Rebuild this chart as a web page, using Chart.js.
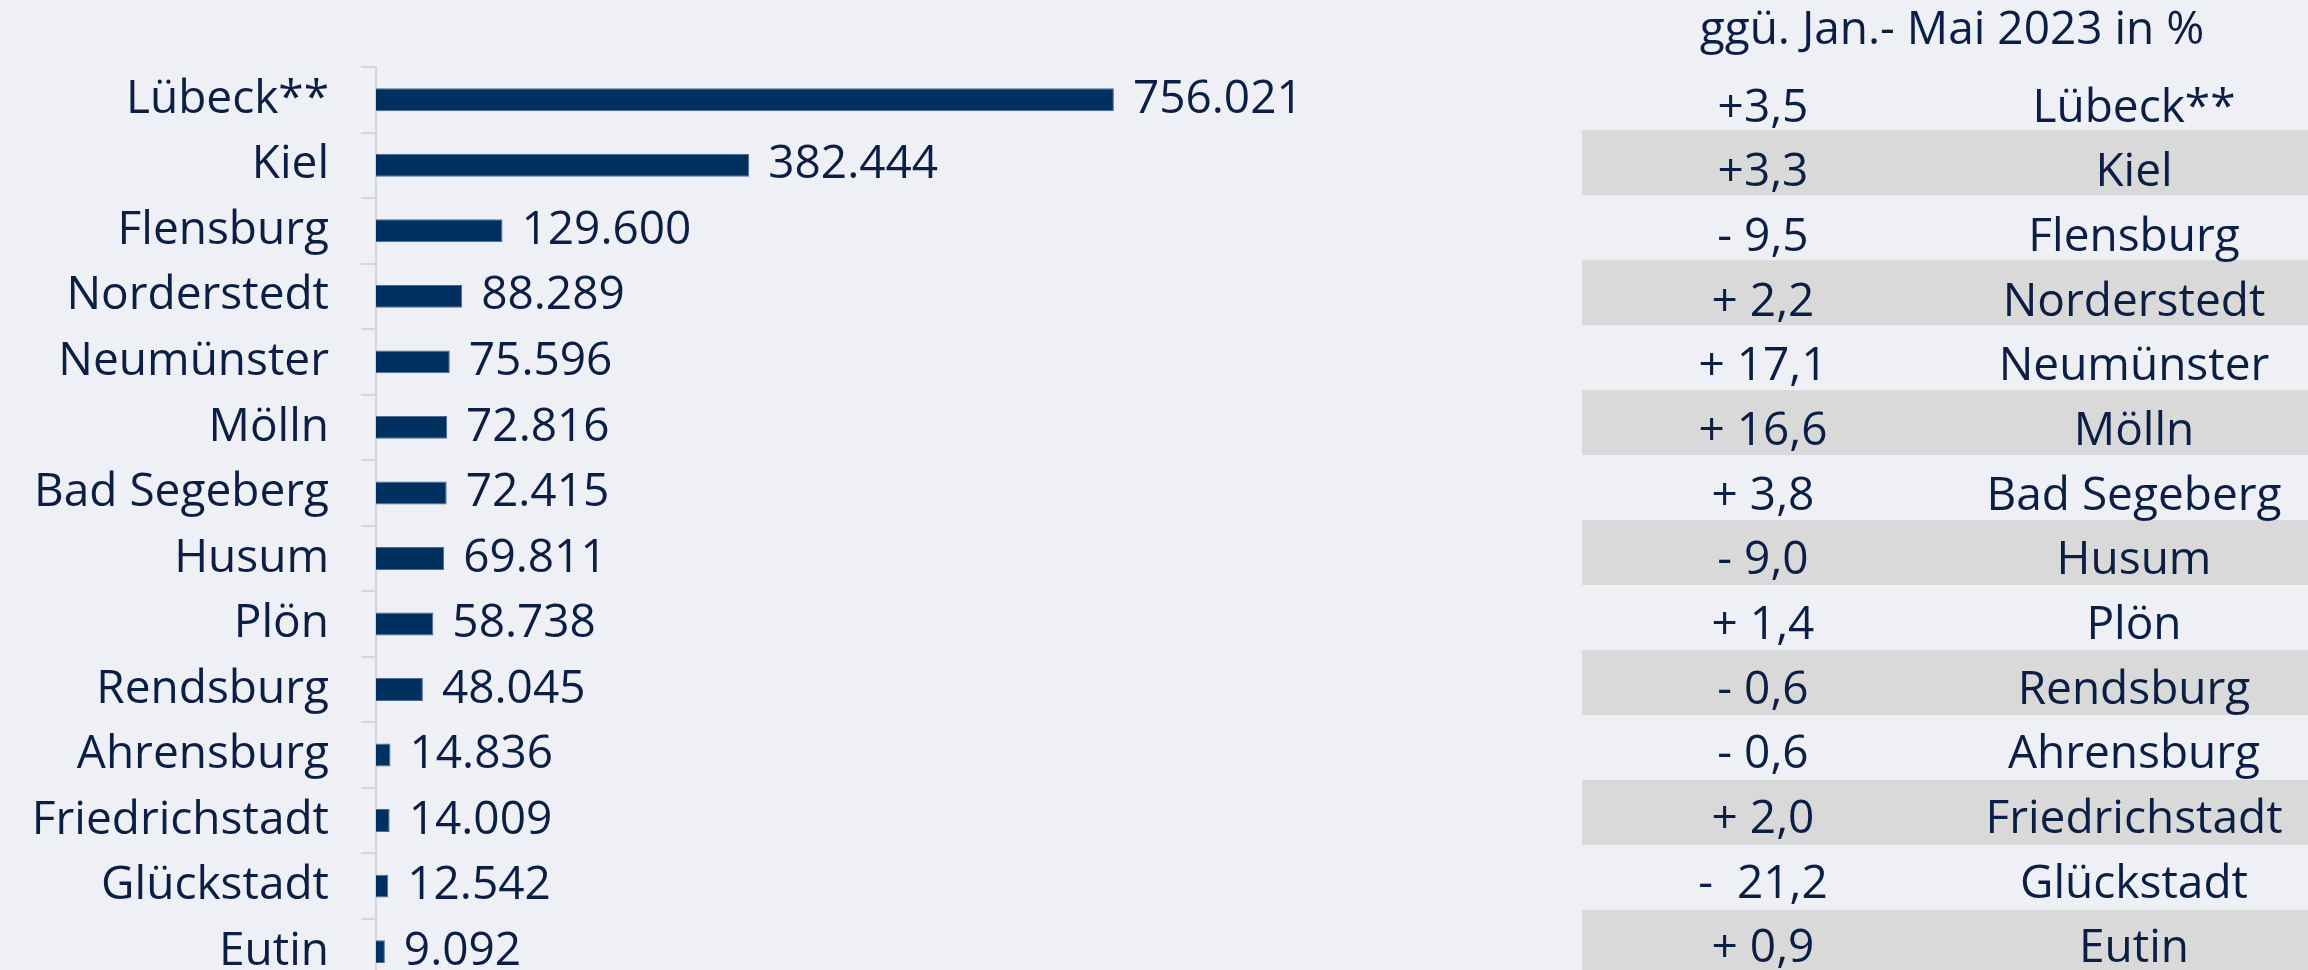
<!DOCTYPE html>
<html>
<head>
<meta charset="utf-8">
<script src="https://cdn.jsdelivr.net/npm/chart.js@4.4.1/dist/chart.umd.min.js"></script>
<style>
  html, body { margin: 0; padding: 0; background: #eff0f5; overflow: hidden; }
  #wrap { width: 2308px; height: 1044px; }
</style>
</head>
<body>
<div id="wrap"><canvas id="c" width="2308" height="1044"></canvas></div>
<script>
const categories = ['Lübeck**', 'Kiel', 'Flensburg', 'Norderstedt', 'Neumünster', 'Mölln', 'Bad Segeberg', 'Husum', 'Plön', 'Rendsburg', 'Ahrensburg', 'Friedrichstadt', 'Glückstadt', 'Eutin'];
const visitors = [756021, 382444, 129600, 88289, 75596, 72816, 72415, 69811, 58738, 48045, 14836, 14009, 12542, 9092];
const changeLabels = ['+3,5', '+3,3', '- 9,5', '+ 2,2', '+ 17,1', '+ 16,6', '+ 3,8', '- 9,0', '+ 1,4', '- 0,6', '- 0,6', '+ 2,0', '-  21,2', '+ 0,9'];
const tableHeader = 'ggü. Jan.- Mai 2023 in %';

const FONT = '"Open Sans", Lato, sans-serif';
const TEXT = '#0b1f45';
const BAR = '#00305f';

function fmtDE(v) {
  return String(v).replace(/\B(?=(\d{3})+(?!\d))/g, '.');
}

const overlay = {
  id: 'overlay',
  beforeDatasetsDraw(chart) {
    const ctx = chart.ctx;
    const y = chart.scales.y;
    const step = y.getPixelForValue(1) - y.getPixelForValue(0);
    ctx.save();
    ctx.fillStyle = '#d9d9d9';
    categories.forEach((c, i) => {
      if (i % 2 === 1) {
        const cy = y.getPixelForValue(i);
        ctx.fillRect(1582, cy - step / 2 - 1.7 - 0.56 * i, 2308 - 1582, step - 0.6);
      }
    });
    ctx.restore();
  },
  afterDatasetsDraw(chart) {
    const ctx = chart.ctx;
    const meta = chart.getDatasetMeta(0);
    const y = chart.scales.y;
    ctx.save();
    ctx.font = '46px ' + FONT;
    ctx.fillStyle = TEXT;
    ctx.textBaseline = 'middle';
    ctx.textAlign = 'left';
    meta.data.forEach((bar, i) => {
      ctx.fillText(fmtDE(visitors[i]), bar.x + 19, bar.y);
    });
    ctx.textAlign = 'center';
    categories.forEach((c, i) => {
      const cy = y.getPixelForValue(i) + 8.7 - 0.86 * i;
      ctx.fillText(changeLabels[i], 1763, cy);
      ctx.fillText(c, 2134, cy);
    });
    ctx.fillText(tableHeader, 1952, 31);
    ctx.restore();
  }
};

new Chart(document.getElementById('c'), {
  type: 'bar',
  data: {
    labels: categories,
    datasets: [{
      data: visitors,
      backgroundColor: BAR,
      borderColor: '#4f6a8f',
      borderWidth: 1,
      categoryPercentage: 1,
      barPercentage: 0.35
    }]
  },
  options: {
    indexAxis: 'y',
    responsive: false,
    animation: false,
    layout: { padding: { top: 67, bottom: 9, left: 0, right: 956 } },
    plugins: { legend: { display: false }, tooltip: { enabled: false } },
    scales: {
      x: {
        display: false,
        min: 0,
        max: 1000000
      },
      y: {
        afterFit(scale) { scale.width = 376; },
        border: { display: true, color: '#d6d6d9', width: 2 },
        grid: { drawOnChartArea: false, drawTicks: true, tickLength: 15, color: '#d6d6d9', lineWidth: 2 },
        ticks: { color: TEXT, font: { family: FONT, size: 46 }, padding: 32, autoSkip: false }
      }
    }
  },
  plugins: [overlay]
});
</script>
</body>
</html>
